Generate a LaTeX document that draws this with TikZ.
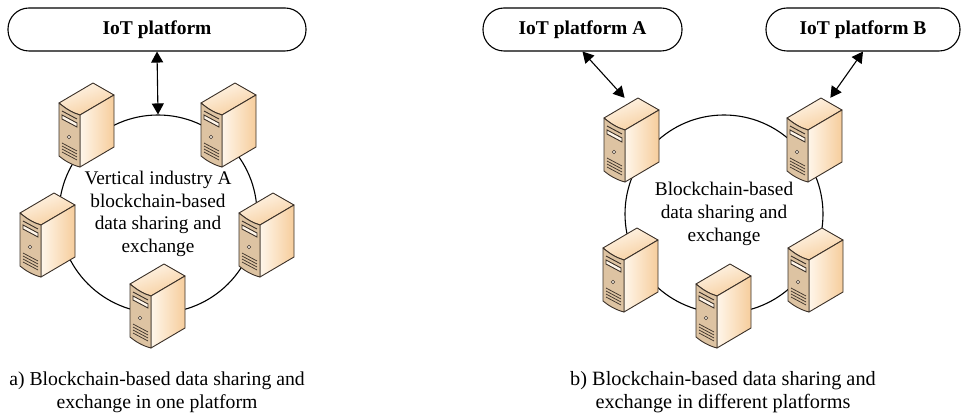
\documentclass[tikz,border=0pt]{standalone}
\usepackage{fontspec}
\setmainfont{Liberation Serif}
\usetikzlibrary{arrows.meta}

\definecolor{srvline}{HTML}{3A3028}
\definecolor{srvfront}{HTML}{DDC3A2}
\definecolor{srvlight}{HTML}{FFF6EA}
\definecolor{srvdark}{HTML}{F6CD9C}

\tikzset{
    platform/.style={draw, line width=1.1pt, rounded corners=21pt, minimum height=43pt, font=\fontsize{19.5}{22.7}\selectfont\bfseries},
    ring/.style={draw, circle, line width=1.1pt, minimum size=198pt, inner sep=0pt, align=center},
    srvbox/.style={minimum width=56pt, minimum height=84pt, inner sep=0pt},
    link/.style={line width=1.1pt, {Triangle[length=11pt,width=12pt]}-{Triangle[length=11pt,width=12pt]}},
    caption/.style={align=center},
    server/.pic={
        % Top, side and front faces of the box
        \draw[srvline, line width=0.9pt, line join=round, left color=srvlight, right color=srvdark, shading angle=20]
            (-28,-22) -- (6,-42) -- (27,-30) -- (-7,-10) .. controls (-14,-12) and (-21,-16) .. (-28,-22) -- cycle;
        \draw[srvline, line width=0.9pt, line join=round, left color=srvlight, right color=srvdark]
            (-7,-10) -- (27,-30) -- (27,22) -- (-7,42) -- cycle;
        \draw[srvline, line width=0.9pt, line join=round, fill=srvfront]
            (-28,-22) .. controls (-21,-16) and (-14,-12) .. (-7,-10) -- (-7,42)
            .. controls (-15,40) and (-22,36) .. (-28,31) -- cycle;
        % Slots, button and vents on the front
        \draw[srvline, line width=0.9pt] (-25,-14) -- (-10,-6);
        \draw[srvline, line width=0.9pt, fill=srvlight] (-25,-10) -- (-10,-2) -- (-10,2) -- (-25,-6) -- cycle;
        \draw[srvline, line width=0.6pt, fill=srvlight] (-18,12) circle (1.8);
        \foreach \v in {0,3,6,9} {
            \draw[srvline, line width=0.7pt] (-25,18+\v) -- (-10,26+\v);
        }
    }
}

\begin{document}
\begin{tikzpicture}[x=1pt, y=-1pt, font=\fontsize{19.3}{22.7}\selectfont]

    \useasboundingbox (0,0) rectangle (963,419);

    % Platforms along the top
    \node[platform, minimum width=298pt] (platform) at (157,29.5) {IoT platform};
    \node[platform, minimum width=199pt] (platforma) at (582.5,29.5) {IoT platform A};
    \node[platform, minimum width=194pt] (platformb) at (863,29.5) {IoT platform B};

    % The two rings with their text
    \node[ring] (ringa) at (158,214) {Vertical industry A\\blockchain-based\\data sharing and\\exchange};
    \node[ring] (ringb) at (724,214) {Blockchain-based\\data sharing and\\exchange};

    % Servers sitting on the rings
    \foreach \name/\x/\y in {srva/87/125, srvb/229/125, srvc/48/235, srvd/267/235, srve/158/306,
                             srvf/632/140, srvg/815/140, srvh/631/270, srvi/816/270, srvj/724/306} {
        \node[srvbox] (\name) at (\x,\y) {};
        \pic at (\name) {server};
    }

    % Links between platforms and the rings
    \draw[link] (platform.south) -- (ringa.north);
    \draw[link] (platforma.south) -- (srvf.100);
    \draw[link] (platformb.south) -- (srvg.70);

    % Captions
    \node[caption, font=\fontsize{19.7}{22.7}\selectfont] (captiona) at (157,392) {a) Blockchain-based data sharing and\\exchange in one platform};
    \node[caption, font=\fontsize{20.3}{22.7}\selectfont] (captionb) at (723,392) {b) Blockchain-based data sharing and\\exchange in different platforms};

\end{tikzpicture}
\end{document}
